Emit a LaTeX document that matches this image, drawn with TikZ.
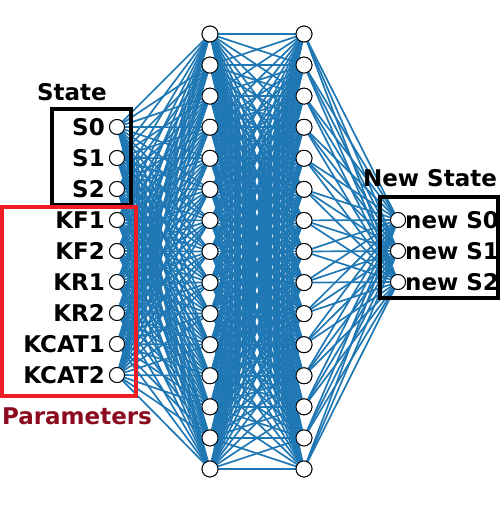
\documentclass[tikz,border=0pt]{standalone}
\usepackage{fontspec}
\setmainfont{DejaVu Sans}
\definecolor{edgeblue}{HTML}{1F77B4}
\definecolor{paramred}{HTML}{8B0A1E}
\definecolor{boxred}{HTML}{EE1C25}
\tikzset{
  neuron/.style={circle, draw=black, fill=white, line width=0.9pt, minimum size=15pt, inner sep=0pt},
  conn/.style={edgeblue, line width=1.7pt},
  lbl/.style={font=\fontsize{23}{23}\selectfont\bfseries, inner sep=0pt, text=black},
  title/.style={font=\fontsize{23}{23}\selectfont\bfseries, inner sep=0pt},
  frame/.style={line width=4pt}
}
\begin{document}
\begin{tikzpicture}[x=1pt,y=-1pt]
\useasboundingbox (0,0) rectangle (501,513);
% nodes
\foreach \i in {1,...,9} \node[neuron] (i\i) at (117,{127+31*(\i-1)}) {};
\foreach \i in {1,...,15} \node[neuron, minimum size=16pt] (a\i) at (210,{34+31.07*(\i-1)}) {};
\foreach \i in {1,...,15} \node[neuron, minimum size=16pt] (b\i) at (304,{34+31.07*(\i-1)}) {};
\foreach \i in {1,...,3} \node[neuron] (o\i) at (398,{220+31*(\i-1)}) {};
% connectors
\foreach \i in {1,...,9} \foreach \j in {1,...,15} \draw[conn] (i\i.center) -- (a\j.center);
\foreach \i in {1,...,15} \foreach \j in {1,...,15} \draw[conn] (a\i.center) -- (b\j.center);
\foreach \i in {1,...,15} \foreach \j in {1,...,3} \draw[conn] (b\i.center) -- (o\j.center);
% redraw nodes on top
\foreach \i in {1,...,9} \node[neuron] at (i\i) {};
\foreach \i in {1,...,15} \node[neuron, minimum size=16pt] at (a\i) {};
\foreach \i in {1,...,15} \node[neuron, minimum size=16pt] at (b\i) {};
\foreach \i in {1,...,3} \node[neuron] at (o\i) {};
% input labels
\node[lbl, anchor=east] (l1) at (105,127) {S0};
\node[lbl, anchor=east] (l2) at (105,158) {S1};
\node[lbl, anchor=east] (l3) at (105,189) {S2};
\node[lbl, anchor=east] (l4) at (105,220) {KF1};
\node[lbl, anchor=east] (l5) at (105,251) {KF2};
\node[lbl, anchor=east] (l6) at (105,282) {KR1};
\node[lbl, anchor=east] (l7) at (105,313) {KR2};
\node[lbl, anchor=east] (l8) at (105,344) {KCAT1};
\node[lbl, anchor=east] (l9) at (105,375) {KCAT2};
% output labels
\node[lbl, anchor=west] (m1) at (405,220) {new S0};
\node[lbl, anchor=west] (m2) at (405,251) {new S1};
\node[lbl, anchor=west] (m3) at (405,282) {new S2};
% frames
\draw[frame, black] (52,109) rectangle (131,205);
\draw[frame, boxred] (2,207) rectangle (136,396);
\draw[frame, black] (380,197) rectangle (498,298);
% titles
\node[title] (tstate) at (72,92) {State};
\node[title, text=paramred] (tparam) at (77,416) {Parameters};
\node[title] (tnew) at (430,178) {New State};
\end{tikzpicture}
\end{document}
